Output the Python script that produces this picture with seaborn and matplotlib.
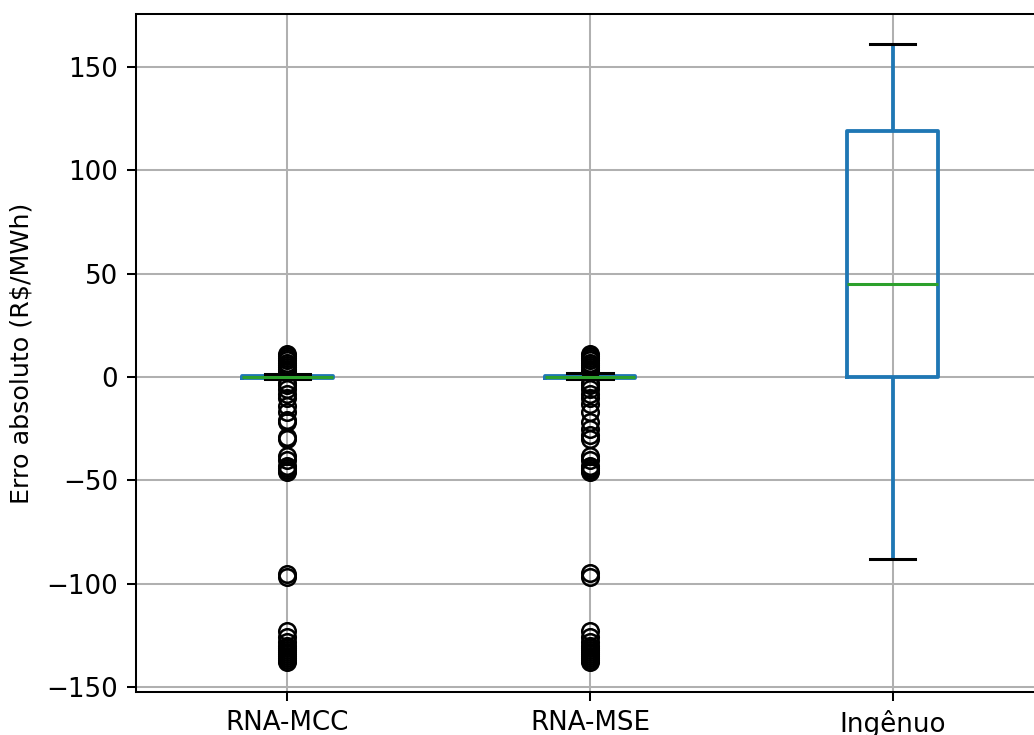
import numpy as np
import pandas as pd
import matplotlib
matplotlib.use("Agg")
import matplotlib.pyplot as plt
import seaborn as sns

# ---- data ----
categories = ["RNA-MCC", "RNA-MSE", "Ingênuo"]

mcc_values = [-138, -137, -136, -135, -134, -133, -132, -131, -130, -128, -126, -123,
              -97, -95.5,
              -46, -45, -44, -43, -40, -38, -30, -29, -22, -21, -17, -14,
              -10, -8, -6, -4, -3,
              -1.2, -0.4, 0.0, 0.6, 1.5,
              3, 4, 5, 6, 7, 8, 9, 10, 11]
mcc_counts = [1] * 31 + [5, 40, 60, 40, 5] + [1] * 9

mse_values = [-138, -137, -136, -135, -134, -133, -132, -131, -130, -128, -126, -123,
              -97, -95,
              -46, -45, -44, -43, -40, -38, -30, -28, -25, -22, -17, -13,
              -10, -8, -6, -4, -3,
              -1.2, -0.4, 0.0, 0.6, 1.8,
              3, 4, 5, 6, 7, 8, 9, 10, 11]
mse_counts = [1] * 31 + [5, 40, 60, 40, 5] + [1] * 9

naive_values = [-88, -40, 0, 20, 45, 80, 119, 140, 161]
naive_counts = [1] * 9

ylabel = "Erro absoluto (R$/MWh)"

# ---- long-form table ----
rows = []
for cat, vals, cnts in [(categories[0], mcc_values, mcc_counts),
                        (categories[1], mse_values, mse_counts),
                        (categories[2], naive_values, naive_counts)]:
    rows.append(pd.DataFrame({"modelo": cat, "erro": np.repeat(vals, cnts)}))
df = pd.concat(rows, ignore_index=True)

# ---- figure ----
dpi = 183
fig = plt.figure(figsize=(1034 / dpi, 735 / dpi), dpi=dpi)
ax = fig.add_axes([136 / 1034, 43 / 735, 908 / 1034, 678 / 735])

sns.boxplot(
    data=df, x="modelo", y="erro", order=categories, ax=ax,
    width=0.3, fill=False, color="#1f77b4", linewidth=1.5, whis=1.5,
    medianprops=dict(color="#2ca02c", linewidth=1.2),
    capprops=dict(color="black", linewidth=1.2),
    whiskerprops=dict(color="#1f77b4", linewidth=1.5),
    flierprops=dict(marker="o", markerfacecolor="none", markeredgecolor="black",
                    markersize=6.5, markeredgewidth=1.0),
)

ax.set_xlim(-0.5, 2.5)
ax.set_ylim(-152.4, 175.6)
ax.set_yticks([-150, -100, -50, 0, 50, 100, 150])
ax.grid(True, color="#b0b0b0", linewidth=0.8)
ax.set_axisbelow(True)
ax.set_xlabel("")
ax.set_ylabel(ylabel, fontsize=10, labelpad=5)
ax.tick_params(labelsize=10.3)

fig.savefig("out.png", dpi=dpi)
